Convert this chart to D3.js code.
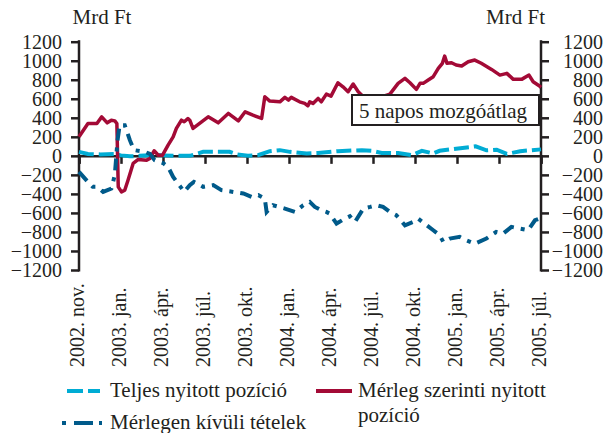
<!DOCTYPE html>
<html>
<head>
<meta charset="utf-8">
<script src="https://cdn.jsdelivr.net/npm/d3@7"></script>
<style>
  body { margin: 0; background: #fff; }
  text { font-family: "Liberation Serif", "Times New Roman", serif; fill: #231f20; }
</style>
</head>
<body>
<script>
// tengely feliratok és adatok

const tickDates = ["2002-11-01", "2003-01-01", "2003-04-01", "2003-07-01", "2003-10-01",
  "2004-01-01", "2004-04-01", "2004-07-01", "2004-10-01", "2005-01-01", "2005-04-01", "2005-07-01"];
const tickLabels = ["2002. nov.", "2003. jan.", "2003. ápr.", "2003. júl.", "2003. okt.",
  "2004. jan.", "2004. ápr.", "2004. júl.", "2004. okt.", "2005. jan.", "2005. ápr.", "2005. júl."];
const yTicks = [-1200, -1000, -800, -600, -400, -200, 0, 200, 400, 600, 800, 1000, 1200];

const seriesNames = ["Teljes nyitott pozíció", "Mérlegen kívüli tételek", "Mérleg szerinti nyitott pozíció"];

// Teljes nyitott pozíció
const teljes = [
  ["2002-11-01", 42], ["2002-11-14", 20], ["2002-12-02", 15], ["2002-12-23", 20],
  ["2003-01-01", 5], ["2003-01-20", -5], ["2003-02-10", 0], ["2003-03-14", 10],
  ["2003-04-01", 5], ["2003-04-27", 0], ["2003-05-29", 0], ["2003-06-27", 42],
  ["2003-08-02", 42], ["2003-08-24", 42], ["2003-09-10", 15], ["2003-10-03", 0],
  ["2003-10-25", 7], ["2003-11-20", 49], ["2003-12-12", 60], ["2004-01-03", 42],
  ["2004-02-08", 25], ["2004-03-04", 30], ["2004-04-16", 49], ["2004-06-07", 60],
  ["2004-06-29", 53], ["2004-07-20", 30], ["2004-08-25", 30], ["2004-09-24", 7],
  ["2004-10-16", 53], ["2004-11-10", 25], ["2004-11-24", 53], ["2004-12-23", 71],
  ["2005-02-02", 95], ["2005-02-10", 100], ["2005-03-05", 58], ["2005-03-27", 65],
  ["2005-04-18", 20], ["2005-05-17", 49], ["2005-07-01", 68]
];

// Mérleg szerinti nyitott pozíció
const merleg = [
  ["2002-11-01", 200], ["2002-11-14", 341], ["2002-11-27", 341], ["2002-12-04", 410],
  ["2002-12-12", 347], ["2002-12-18", 375], ["2002-12-23", 368], ["2002-12-26", 340],
  ["2002-12-28", -326], ["2003-01-02", -379], ["2003-01-09", -361], ["2003-01-16", -256],
  ["2003-01-27", -80], ["2003-02-07", -38], ["2003-02-25", -45], ["2003-03-04", -28],
  ["2003-03-13", 53], ["2003-03-22", 7], ["2003-03-31", 7], ["2003-04-12", 113],
  ["2003-04-23", 200], ["2003-04-30", 288], ["2003-05-11", 375], ["2003-05-17", 358],
  ["2003-05-25", 393], ["2003-05-29", 375], ["2003-06-05", 288], ["2003-07-08", 410],
  ["2003-07-30", 347], ["2003-08-21", 446], ["2003-09-12", 368], ["2003-09-27", 463],
  ["2003-10-14", 428], ["2003-11-02", 393], ["2003-11-09", 621], ["2003-11-20", 576],
  ["2003-12-12", 568], ["2003-12-23", 615], ["2003-12-31", 586], ["2004-01-06", 615],
  ["2004-01-24", 568], ["2004-02-04", 551], ["2004-02-11", 526], ["2004-02-15", 568],
  ["2004-02-22", 551], ["2004-03-04", 604], ["2004-03-11", 568], ["2004-03-22", 649],
  ["2004-04-01", 628], ["2004-04-16", 768], ["2004-04-27", 726], ["2004-05-08", 674],
  ["2004-05-19", 755], ["2004-05-30", 674], ["2004-06-10", 621], ["2004-06-28", 615],
  ["2004-07-16", 615], ["2004-08-07", 649], ["2004-08-25", 762], ["2004-09-09", 815],
  ["2004-09-20", 768], ["2004-10-04", 699], ["2004-10-12", 762], ["2004-10-19", 762],
  ["2004-10-30", 797], ["2004-11-10", 832], ["2004-11-21", 920], ["2004-11-30", 973],
  ["2004-12-05", 1049], ["2004-12-10", 973], ["2004-12-20", 979], ["2004-12-30", 955],
  ["2005-01-11", 944], ["2005-01-25", 989], ["2005-02-08", 1007], ["2005-02-22", 973],
  ["2005-03-16", 909], ["2005-04-03", 849], ["2005-04-18", 867], ["2005-05-02", 804],
  ["2005-05-20", 804], ["2005-06-05", 849], ["2005-06-14", 779], ["2005-06-27", 737],
  ["2005-07-01", 720]
];

// Mérlegen kívüli tételek
const kivuli = [
  ["2002-11-01", -168], ["2002-11-14", -274], ["2002-11-21", -326], ["2002-11-27", -326],
  ["2002-12-06", -379], ["2002-12-18", -344], ["2002-12-23", -203], ["2002-12-27", 165],
  ["2002-12-30", 323], ["2003-01-09", 323], ["2003-01-20", 165], ["2003-01-29", 60],
  ["2003-02-21", 42], ["2003-03-04", 20], ["2003-03-14", -45], ["2003-04-01", -75],
  ["2003-04-12", -116], ["2003-04-23", -221], ["2003-05-09", -326], ["2003-05-17", -379],
  ["2003-05-29", -308], ["2003-06-07", -274], ["2003-06-27", -326], ["2003-07-19", -308],
  ["2003-08-06", -361], ["2003-09-01", -379], ["2003-09-23", -396], ["2003-10-11", -432],
  ["2003-10-26", -414], ["2003-11-09", -449], ["2003-11-13", -590], ["2003-11-27", -519],
  ["2003-12-23", -554], ["2004-01-14", -590], ["2004-02-01", -519], ["2004-02-15", -484],
  ["2004-02-26", -537], ["2004-03-11", -572], ["2004-03-22", -590], ["2004-03-29", -607],
  ["2004-04-13", -712], ["2004-05-01", -660], ["2004-05-12", -635], ["2004-05-23", -695],
  ["2004-06-10", -554], ["2004-06-25", -537], ["2004-07-09", -519], ["2004-07-23", -537],
  ["2004-08-07", -590], ["2004-08-21", -624], ["2004-09-09", -730], ["2004-09-27", -695],
  ["2004-10-08", -660], ["2004-10-22", -712], ["2004-11-10", -782], ["2004-11-24", -835],
  ["2004-12-02", -905], ["2004-12-16", -870], ["2005-01-07", -852], ["2005-01-21", -887],
  ["2005-02-08", -923], ["2005-03-05", -870], ["2005-03-26", -800], ["2005-04-10", -817],
  ["2005-04-28", -747], ["2005-05-16", -765], ["2005-06-03", -782], ["2005-06-18", -677],
  ["2005-06-27", -660], ["2005-07-01", -650]
];

const colors = {teljes: "#00acd4", kivuli: "#005a8a", merleg: "#a30a36", axis: "#231f20"};

const w = 605;
const h = 433;
const plot = {left: 79, right: 541, top: 41.7, bottom: 270};

const parse = d3.timeParse("%Y-%m-%d");

// a címkék egyenletes közökben állnak, ezért töréspontos időskála
const xScale = d3.scaleTime()
    .domain(tickDates.map(parse))
    .range(tickDates.map((d, i) => plot.left + i * (plot.right - plot.left) / (tickDates.length - 1)));

const yScale = d3.scaleLinear()
    .domain([-1200, 1200])
    .range([plot.bottom, plot.top]);

const svg = d3.select("body")
  .append("svg")
    .attr("width", w)
    .attr("height", h);

svg.append("rect")
    .attr("width", w)
    .attr("height", h)
    .attr("fill", "#fff");

// tengelyek

const yLeft = d3.axisLeft(yScale).tickValues(yTicks).tickSize(8).tickPadding(9)
    .tickFormat(d => d < 0 ? "\u2212" + Math.abs(d) : d);
const yRight = d3.axisRight(yScale).tickValues(yTicks).tickSize(8).tickPadding(0)
    .tickFormat(d => d < 0 ? "\u2212" + Math.abs(d) : d);

const gl = svg.append("g")
    .attr("transform", `translate(${plot.left},0)`)
    .call(yLeft);

const gr = svg.append("g")
    .attr("transform", `translate(${plot.right},0)`)
    .call(yRight);

[gl, gr].forEach(g => {
  g.select(".domain").remove();
  g.selectAll(".tick line").attr("stroke", colors.axis).attr("stroke-width", 2.5);
  g.selectAll(".tick text")
      .attr("font-size", 20)
      .attr("font-family", "Liberation Serif")
      .attr("fill", colors.axis);
});
gr.selectAll(".tick text").attr("text-anchor", "end").attr("x", 603 - plot.right);

[plot.left, plot.right].forEach(x => {
  svg.append("line")
      .attr("x1", x).attr("x2", x)
      .attr("y1", plot.top - 1.5).attr("y2", plot.bottom + 1.5)
      .attr("stroke", colors.axis)
      .attr("stroke-width", 2.5);
});

// nulla vonal és időtengely
const xAxis = d3.axisBottom(xScale)
    .tickValues(tickDates.map(parse))
    .tickSize(8)
    .tickFormat((d, i) => tickLabels[i]);

const gx = svg.append("g")
    .attr("transform", `translate(0,${yScale(0)})`)
    .call(xAxis);

gx.select(".domain").attr("stroke", colors.axis).attr("stroke-width", 2.5);
gx.selectAll(".tick line").attr("stroke", colors.axis).attr("stroke-width", 2.5);
gx.selectAll(".tick text")
    .attr("font-size", 20)
    .attr("font-family", "Liberation Serif")
    .attr("fill", colors.axis)
    .attr("text-anchor", "start")
    .attr("transform", `translate(-3,${367 - yScale(0)}) rotate(-90)`)
    .attr("x", 0)
    .attr("y", 0)
    .attr("dy", "0.35em");

// mértékegység
svg.append("text")
    .attr("x", 72.5).attr("y", 24)
    .attr("font-size", 21)
    .text("Mrd Ft");

svg.append("text")
    .attr("x", 545).attr("y", 24)
    .attr("font-size", 21)
    .attr("text-anchor", "end")
    .text("Mrd Ft");

// vonalak

const line = d3.line()
    .x(d => xScale(parse(d[0])))
    .y(d => yScale(d[1]));

svg.append("path")
    .datum(teljes)
    .attr("d", line)
    .attr("fill", "none")
    .attr("stroke", colors.teljes)
    .attr("stroke-width", 4)
    .attr("stroke-dasharray", "15,5");

svg.append("path")
    .datum(merleg)
    .attr("d", line)
    .attr("fill", "none")
    .attr("stroke", colors.merleg)
    .attr("stroke-width", 3.5)
    .attr("stroke-linejoin", "round");

svg.append("path")
    .datum(kivuli)
    .attr("d", line)
    .attr("fill", "none")
    .attr("stroke", colors.kivuli)
    .attr("stroke-width", 4)
    .attr("stroke-dasharray", "12,7,4,7");

// 5 napos mozgóátlag doboz
svg.append("rect")
    .attr("x", 352).attr("y", 95)
    .attr("width", 187).attr("height", 30)
    .attr("fill", "#fff")
    .attr("stroke", colors.axis)
    .attr("stroke-width", 2);

svg.append("text")
    .attr("x", 359).attr("y", 118)
    .attr("font-size", 21)
    .text("5 napos mozgóátlag");

// jelmagyarázat

svg.append("line")
    .attr("x1", 67).attr("x2", 100).attr("y1", 391).attr("y2", 391)
    .attr("stroke", colors.teljes).attr("stroke-width", 4)
    .attr("stroke-dasharray", "16,5");

svg.append("text")
    .attr("x", 110).attr("y", 397)
    .attr("font-size", 21)
    .text(seriesNames[0]);

svg.append("line")
    .attr("x1", 62).attr("x2", 102).attr("y1", 423).attr("y2", 423)
    .attr("stroke", colors.kivuli).attr("stroke-width", 4)
    .attr("stroke-dasharray", "4,8,19,6,4,10");

svg.append("text")
    .attr("x", 110).attr("y", 429)
    .attr("font-size", 21)
    .text(seriesNames[1]);

svg.append("line")
    .attr("x1", 316).attr("x2", 352).attr("y1", 391).attr("y2", 391)
    .attr("stroke", colors.merleg).attr("stroke-width", 4);

svg.append("text")
    .attr("x", 358).attr("y", 397)
    .attr("font-size", 21)
    .text("Mérleg szerinti nyitott");

svg.append("text")
    .attr("x", 358).attr("y", 422)
    .attr("font-size", 21)
    .text("pozíció");
</script>
</body>
</html>
